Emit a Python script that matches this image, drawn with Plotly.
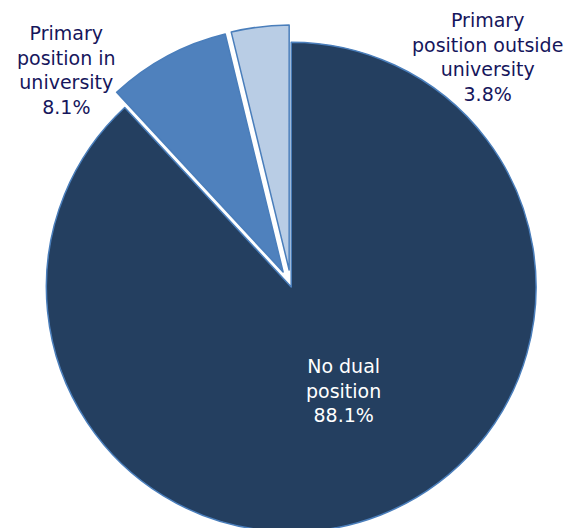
import plotly.graph_objects as go

# Share of academics by dual-position status (%)
labels = ["No dual<br>position",
          "Primary<br>position in<br>university",
          "Primary<br>position outside<br>university"]
shares = [88.1, 8.1, 3.8]

colors = ["#243F60", "#4F81BD", "#B9CDE5"]
pulls = [0, 0.07, 0.07]

# label placement (paper coords) and text colour
label_xy = [(0.602, 0.303), (0.116, 0.914), (0.853, 0.939)]
label_colors = ["white", "#16165C", "#16165C"]

fig = go.Figure()
fig.add_trace(go.Pie(
    labels=labels, values=shares, sort=False, direction="clockwise", rotation=0,
    pull=pulls, textinfo="none", hoverinfo="label+percent",
    marker=dict(colors=colors, line=dict(color="#4A7EBB", width=1.5)),
    domain=dict(x=[0.02, 1], y=[0, 1]),
    showlegend=False,
))

for lab, val, (x, y), c in zip(labels, shares, label_xy, label_colors):
    fig.add_annotation(x=x, y=y, xref="paper", yref="paper", showarrow=False,
                       xanchor="center", yanchor="middle",
                       text=f"{lab}<br>{val}%", align="center",
                       font=dict(family="DejaVu Sans", size=19, color=c))

fig.update_layout(width=571, height=549, margin=dict(l=0, r=0, t=25, b=0),
                  paper_bgcolor="white", plot_bgcolor="white")

fig.write_html("out.html", config={"displayModeBar": False},
               post_script="document.body.style.margin='0';document.body.style.overflow='hidden';")
